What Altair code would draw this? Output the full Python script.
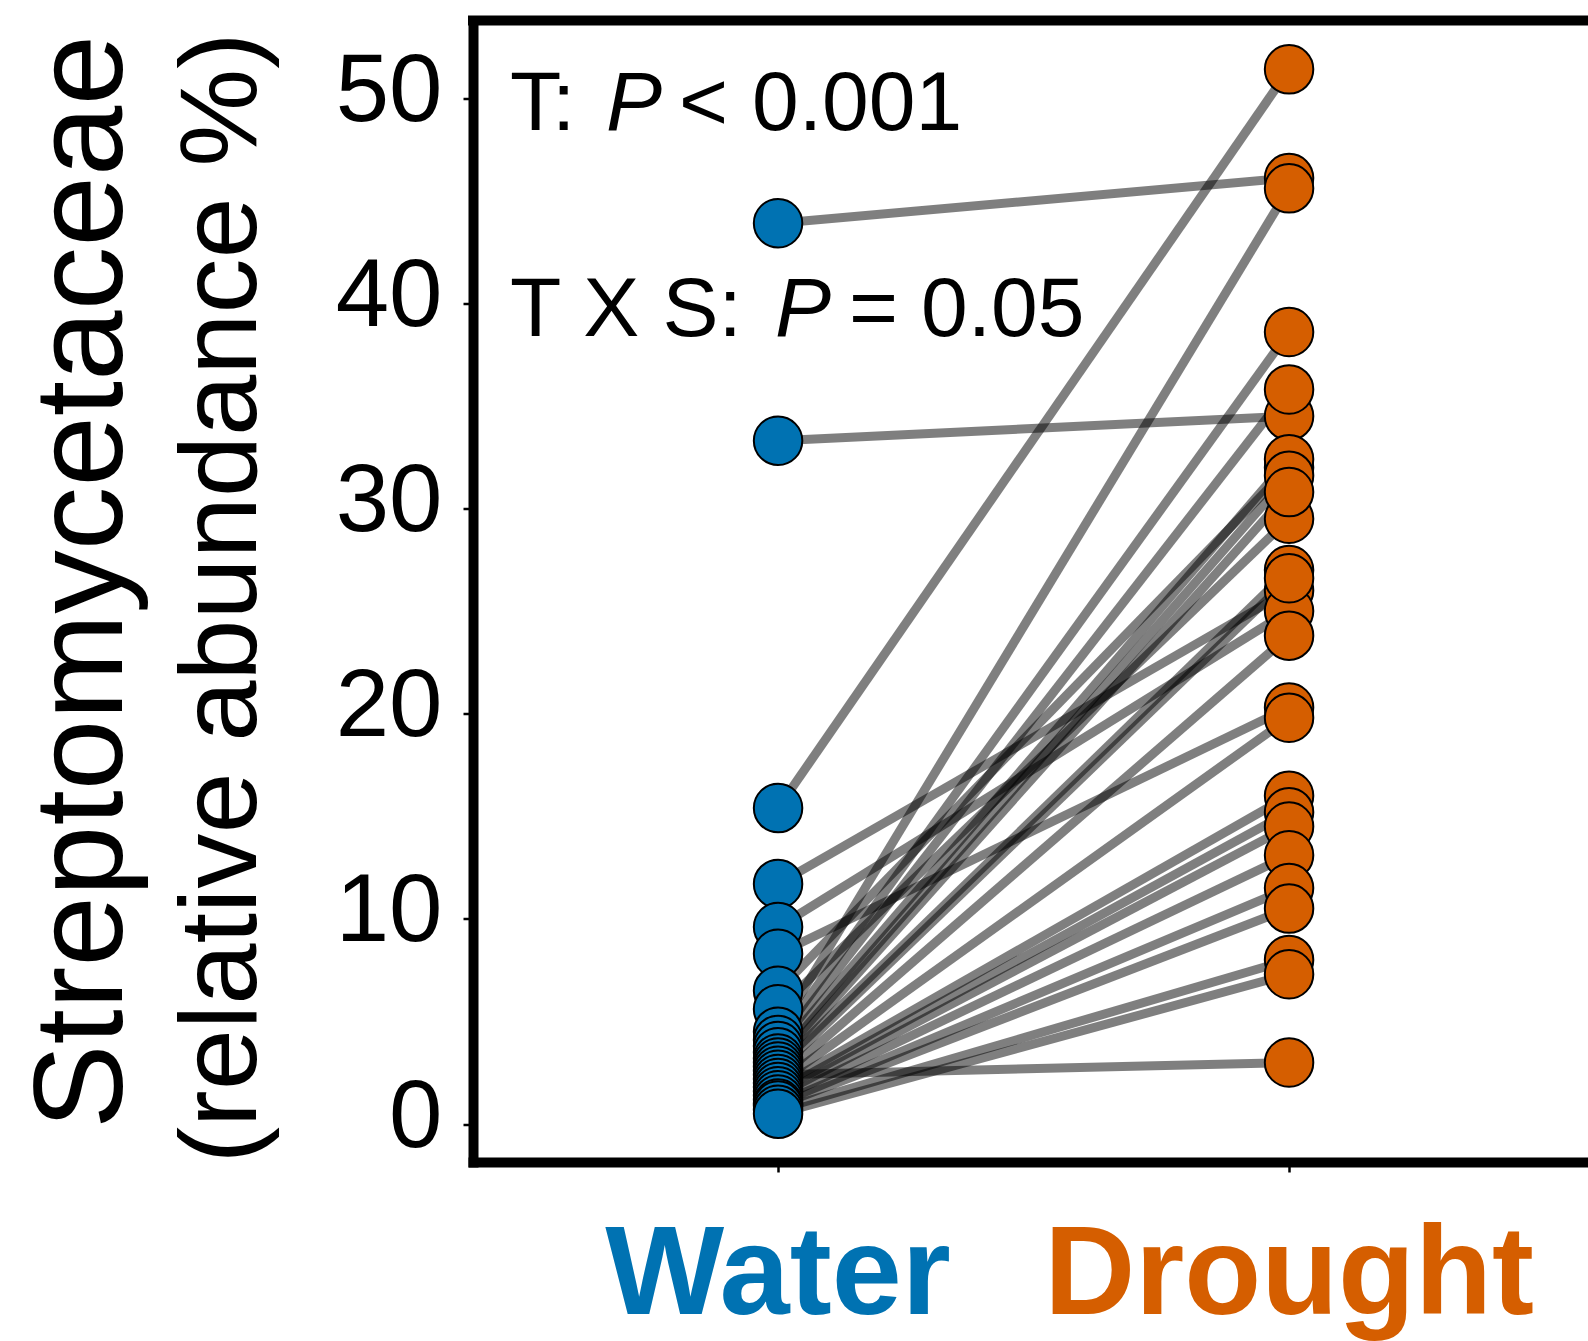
import altair as alt
import pandas as pd

# ---- data ----
groups = ["Water", "Drought"]
group_pos = [1, 2]
group_colors = ["#0072B2", "#D55E00"]
water = [43.9, 33.3, 15.4, 11.7, 9.6, 8.3, 6.5, 5.6, 4.5, 4.1, 3.8, 3.5, 3.2, 3.0,
         2.8, 2.6, 2.4, 2.2, 2.0, 1.8, 1.6, 1.4, 1.2, 1.0, 0.9, 0.7, 0.5]
drought = [46.1, 34.5, 51.4, 26.0, 25.0, 20.3, 32.0, 29.5, 45.6, 38.6, 35.8, 32.4, 31.6, 30.8,
           27.0, 26.6, 3.0, 23.8, 19.8, 16.0, 15.2, 14.5, 13.1, 11.5, 10.5, 8.0, 7.3]
y_ticks = [0, 10, 20, 30, 40, 50]
title_lines = ["Streptomycetaceae", "(relative abundance %)"]

rows = []
for i, (w, d) in enumerate(zip(water, drought)):
    rows.append({"pair": i, "group": groups[0], "pos": group_pos[0], "value": w})
    rows.append({"pair": i, "group": groups[1], "pos": group_pos[1], "value": d})
df = pd.DataFrame(rows)
lab_df = pd.DataFrame({"group": groups, "pos": group_pos})

W = 1115
H = 1141.5
FONT = "Liberation Sans"

xs = alt.Scale(domain=[0.403, 2.585], nice=False, zero=False)
ys = alt.Scale(domain=[-1.85, 53.78], nice=False, zero=False)

x_axis = alt.Axis(values=group_pos, labels=False, title=None, grid=False,
                  domainWidth=10, domainColor="black", domainCap="square",
                  tickSize=10, tickWidth=2.5, tickColor="black")
y_axis = alt.Axis(values=y_ticks, title=None, grid=False,
                  domainWidth=10, domainColor="black", domainCap="square",
                  tickSize=10, tickWidth=2.5, tickColor="black",
                  labelFontSize=96, labelFont=FONT, labelColor="black",
                  labelPadding=21, labelOffset=-7)

X = alt.X("pos:Q", scale=xs, axis=x_axis)
Y = alt.Y("value:Q", scale=ys, axis=y_axis)

base = alt.Chart(df)
lines = base.mark_line(color="black", opacity=0.5, strokeWidth=9).encode(
    x=X, y=Y, detail="pair:N")
points = base.mark_point(filled=True, size=2350, stroke="black", strokeWidth=2,
                         fillOpacity=1, strokeOpacity=1).encode(
    x=X, y=Y,
    fill=alt.Fill("group:N", scale=alt.Scale(domain=groups, range=group_colors), legend=None))

one = pd.DataFrame({"a": [0]})
top_rule = alt.Chart(one).mark_rule(color="black", strokeWidth=10).encode(
    x=alt.value(-5), x2=alt.value(W + 5), y=alt.value(0))


def txt(s, x, y, size, style="normal", weight="normal", angle=0, align="left"):
    d = pd.DataFrame({"t": [s]})
    kw = dict(font=FONT, fontSize=size, fontStyle=style, fontWeight=weight,
              align=align, baseline="alphabetic", color="black")
    if angle:
        kw["angle"] = angle
    return alt.Chart(d).mark_text(**kw).encode(
        x=alt.value(x), y=alt.value(y), text="t:N")


ann = [
    txt("T:", 37, 109.5, 84),
    txt("P", 133, 109.5, 84, style="italic"),
    txt("<", 206, 109.5, 84),
    txt("0.001", 279, 109.5, 84),
    txt("T X S:", 37, 315.5, 84),
    txt("P", 302, 315.5, 84, style="italic"),
    txt("=", 376, 315.5, 84),
    txt("0.05", 448, 315.5, 84),
    txt(title_lines[0], -351, 561.5, 127, angle=270, align="center"),
    txt(title_lines[1], -217, 577.5, 110, angle=270, align="center"),
]

xlabels = alt.Chart(lab_df).mark_text(font=FONT, fontSize=126, fontWeight="bold",
                                      align="center", baseline="alphabetic").encode(
    x=X, y=alt.value(1293), text="group:N",
    color=alt.Color("group:N", scale=alt.Scale(domain=groups, range=group_colors), legend=None))

chart = alt.layer(lines, points, top_rule, xlabels, *ann).properties(
    width=W, height=H,
    autosize=alt.AutoSizeParams(type="none"),
    padding={"left": 473, "top": 20.5, "right": 0, "bottom": 179},
    background="white",
).configure_view(stroke=None)

chart.save("out.html", embed_options={"renderer": "svg", "actions": False})
